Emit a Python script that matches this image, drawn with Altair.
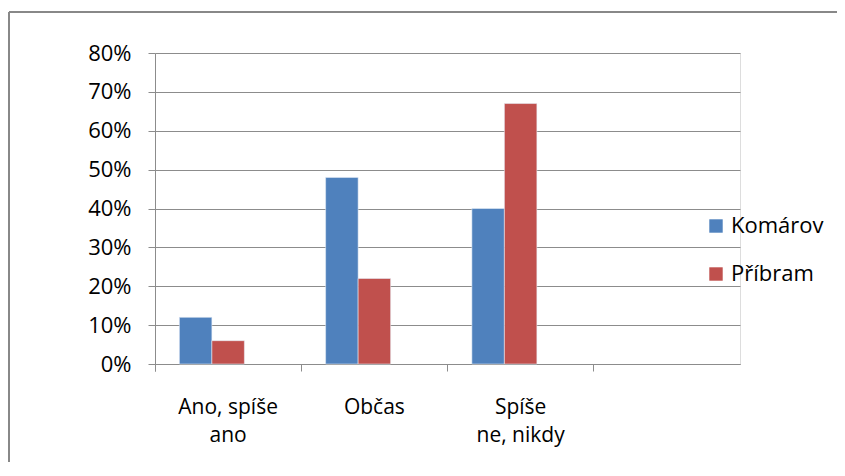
import altair as alt
import pandas as pd

categories = ["Ano, spíše ano", "Občas", "Spíše ne, nikdy", " "]
label_lines = [["Ano, spíše", "ano"], ["Občas"], ["Spíše", "ne, nikdy"], [""]]
series = ["Komárov", "Příbram"]
komarov = [0.12, 0.48, 0.40]
pribram = [0.06, 0.22, 0.67]
colors = ["#4F81BD", "#C0504D"]
y_ticks = [0, 0.1, 0.2, 0.3, 0.4, 0.5, 0.6, 0.7, 0.8]

rows = []
for c, k, p in zip(categories, komarov, pribram):
    rows.append({"cat": c, "series": series[0], "value": k})
    rows.append({"cat": c, "series": series[1], "value": p})
df = pd.DataFrame(rows)

# label expression for multi-line category labels
parts = []
for c, lines in zip(categories, label_lines):
    arr = "[" + ",".join("'" + l + "'" for l in lines) + "]"
    parts.append(f"datum.value == '{c}' ? {arr} : ")
label_expr = "".join(parts) + "datum.label"

FONT = "Open Sans"
GRID = "#8c8c8c"

bars = alt.Chart(df).mark_bar(stroke="#e8eef7", strokeWidth=0.8, strokeOpacity=0.7).encode(
    x=alt.X("cat:N", sort=categories,
            scale=alt.Scale(domain=categories, paddingInner=0, paddingOuter=0),
            axis=alt.Axis(title=None, labelExpr=label_expr, labelAngle=0,
                          bandPosition=0, tickExtra=True, tickSize=7,
                          tickColor=GRID, domainColor=GRID, labelPadding=25,
                          labelLineHeight=28, labelFontSize=21, labelFont=FONT,
                          labelColor="#000000", labelBaseline="top")),
    xOffset=alt.XOffset("series:N",
                        scale=alt.Scale(domain=series + ["_"], paddingInner=0, paddingOuter=0.75)),
    y=alt.Y("value:Q", scale=alt.Scale(domain=[0, 0.8]),
            axis=alt.Axis(title=None, format=".0%", values=y_ticks, grid=True,
                          gridColor=GRID, gridWidth=1, tickColor=GRID, tickSize=7,
                          domainColor=GRID, labelPadding=17, labelFontSize=22,
                          labelFont=FONT, labelColor="#000000")),
    color=alt.Color("series:N", scale=alt.Scale(domain=series, range=colors),
                    legend=alt.Legend(title=None, orient="none", legendX=550, legendY=162,
                                      symbolType="square", symbolSize=180,
                                      symbolStrokeWidth=0, labelFontSize=22,
                                      labelFont=FONT, labelColor="#000000",
                                      rowPadding=26, labelOffset=4)),
)

border_top = alt.Chart(pd.DataFrame({"a": [0]})).mark_rule(color="#888888", strokeWidth=2).encode(
    x=alt.value(-146), x2=alt.value(682), y=alt.value(-41))
border_left = alt.Chart(pd.DataFrame({"a": [0]})).mark_rule(color="#888888", strokeWidth=2).encode(
    x=alt.value(-146), y=alt.value(-41), y2=alt.value(500))

chart = alt.layer(bars, border_top, border_left).properties(
    width=585, height=311,
    autosize=alt.AutoSizeParams(type="none"),
    padding={"left": 147, "top": 45, "right": 97, "bottom": 98},
).configure_view(stroke=None).configure(background="white")

chart.save("out.html", embed_options={"renderer": "svg", "actions": False})
